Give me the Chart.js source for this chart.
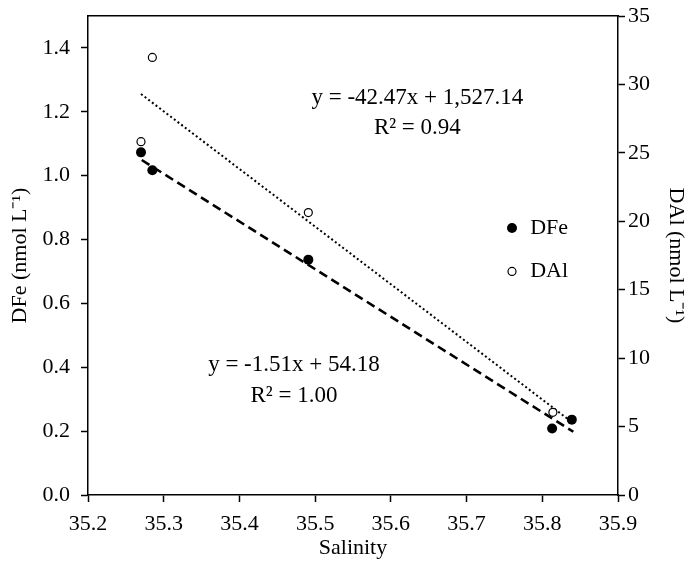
<!DOCTYPE html>
<html><head><meta charset="utf-8">
<script src="https://cdn.jsdelivr.net/npm/chart.js@4.4.1/dist/chart.umd.min.js"></script>
<style>html,body{margin:0;padding:0;background:#fff;}</style>
</head><body>
<canvas id="c" width="692" height="569"></canvas>
<script>
// ---- data ----
const salinityFe = [35.270, 35.285, 35.491, 35.813, 35.839];
const dFe        = [1.073, 1.017, 0.737, 0.208, 0.236];
const salinityAl = [35.270, 35.285, 35.491, 35.814];
const dAl        = [25.82, 31.97, 20.64, 6.04];
const feTrendX   = [35.271, 35.841];
const feTrendY   = [1.049, 0.198];
const alTrendX   = [35.270, 35.835];
const alTrendY   = [29.3, 5.5];
const xTicks     = [35.2, 35.3, 35.4, 35.5, 35.6, 35.7, 35.8, 35.9];
const feTicks    = [0, 0.2, 0.4, 0.6, 0.8, 1.0, 1.2, 1.4];
const alTicks    = [0, 5, 10, 15, 20, 25, 30, 35];
const feEquation = ['y = -1.51x + 54.18', 'R\u00B2 = 1.00'];
const alEquation = ['y = -42.47x + 1,527.14', 'R\u00B2 = 0.94'];
const seriesNames = ['DFe', 'DAl'];

// ---- layout / style ----
const FONT = '"Liberation Serif", "Times New Roman", serif';
const FS = 22;
const FS_EQ = 23;
const annot = {
  fe: {x: 35.472, y: [0.406, 0.31]},
  al: {x: 35.635, y: [1.242, 1.148]},
  legend: {x: 35.76, xText: 35.784, y: [0.836, 0.70]}
};

const pts = (xs, ys) => xs.map((x, i) => ({x, y: ys[i]}));

const overlay = {
  id: 'overlay',
  afterDatasetsDraw(chart) {
    const {ctx, scales} = chart;
    const sx = scales.x, sy = scales.y;
    ctx.save();
    ctx.fillStyle = '#000';
    ctx.font = FS_EQ + 'px ' + FONT;
    ctx.textAlign = 'center';
    ctx.textBaseline = 'middle';
    [[feEquation, annot.fe], [alEquation, annot.al]].forEach(([lines, a]) => {
      lines.forEach((t, i) => ctx.fillText(t, sx.getPixelForValue(a.x), sy.getPixelForValue(a.y[i])));
    });
    // legend
    ctx.font = FS + 'px ' + FONT;
    const lx = sx.getPixelForValue(annot.legend.x);
    const tx = sx.getPixelForValue(annot.legend.xText);
    ctx.textAlign = 'left';
    seriesNames.forEach((n, i) => {
      const ly = sy.getPixelForValue(annot.legend.y[i]);
      ctx.beginPath();
      if (i === 0) {
        ctx.arc(lx, ly, 5, 0, Math.PI * 2);
        ctx.fillStyle = '#000'; ctx.fill();
      } else {
        ctx.arc(lx, ly, 4, 0, Math.PI * 2);
        ctx.fillStyle = '#fff'; ctx.fill();
        ctx.lineWidth = 1.2; ctx.strokeStyle = '#000'; ctx.stroke();
      }
      ctx.fillStyle = '#000';
      ctx.fillText(n, tx, ly);
    });
    ctx.restore();
  }
};

const tickFont = {family: FONT, size: FS};
const gridOpts = {drawOnChartArea: false, drawTicks: true, tickLength: 7, color: '#000', tickWidth: 1.5};
const borderOpts = {display: true, color: '#000', width: 1.5};
const noVPad = s => { s.paddingTop = 0; s.paddingBottom = 0; };
const noHPad = s => { s.paddingLeft = 0; s.paddingRight = 0; };

new Chart(document.getElementById('c'), {
  type: 'scatter',
  data: {
    datasets: [
      {label: seriesNames[0], data: pts(salinityFe, dFe), yAxisID: 'y', order: 0,
       pointRadius: 5, pointBackgroundColor: '#000', pointBorderColor: '#000', pointBorderWidth: 0},
      {label: seriesNames[1], data: pts(salinityAl, dAl), yAxisID: 'y1', order: 0,
       pointRadius: 4, pointBackgroundColor: '#fff', pointBorderColor: '#000', pointBorderWidth: 1.2},
      {label: 'DFe trend', data: pts(feTrendX, feTrendY), yAxisID: 'y', order: 1, showLine: true,
       borderColor: '#000', borderWidth: 2.6, borderDash: [9, 5], pointRadius: 0},
      {label: 'DAl trend', data: pts(alTrendX, alTrendY), yAxisID: 'y1', order: 1, showLine: true,
       borderColor: '#000', borderWidth: 2, borderDash: [2, 2.6], pointRadius: 0}
    ]
  },
  options: {
    responsive: false,
    animation: false,
    layout: {padding: {top: 16, left: 0, right: 0, bottom: 0}},
    plugins: {legend: {display: false}, tooltip: {enabled: false}},
    scales: {
      x: {
        type: 'linear', position: 'bottom', min: 35.2, max: 35.9,
        afterBuildTicks: s => { s.ticks = xTicks.map(v => ({value: v})); },
        afterFit: s => { s.height = 74; noHPad(s); },
        ticks: {font: tickFont, color: '#000', padding: 9, maxRotation: 0, callback: v => Number(v).toFixed(1)},
        grid: gridOpts, border: borderOpts,
        title: {display: true, text: 'Salinity', font: tickFont, color: '#000', padding: {top: 0, bottom: 8}}
      },
      x2: {
        type: 'linear', position: 'top', min: 35.2, max: 35.9,
        afterFit: s => { s.height = 0; noHPad(s); },
        ticks: {display: false},
        grid: {display: false, drawTicks: false},
        border: borderOpts
      },
      y: {
        type: 'linear', position: 'left', min: 0, max: 1.5,
        afterBuildTicks: s => { s.ticks = feTicks.map(v => ({value: v})); },
        afterFit: s => { s.width = 88; noVPad(s); },
        ticks: {font: tickFont, color: '#000', padding: 11, callback: v => Number(v).toFixed(1)},
        grid: gridOpts, border: borderOpts,
        title: {display: true, text: 'DFe (nmol L\u207B\u00B9)', font: tickFont, color: '#000', padding: {top: 7, bottom: 0}}
      },
      y1: {
        type: 'linear', position: 'right', min: 0, max: 35,
        afterBuildTicks: s => { s.ticks = alTicks.map(v => ({value: v})); },
        afterFit: s => { s.width = 74; noVPad(s); },
        ticks: {font: tickFont, color: '#000', padding: 3, callback: v => String(v)},
        grid: gridOpts, border: borderOpts,
        title: {display: true, text: 'DAl (nmol L\u207B\u00B9)', font: tickFont, color: '#000', padding: {top: 3, bottom: 0}}
      }
    }
  },
  plugins: [overlay]
});
</script>
</body></html>
